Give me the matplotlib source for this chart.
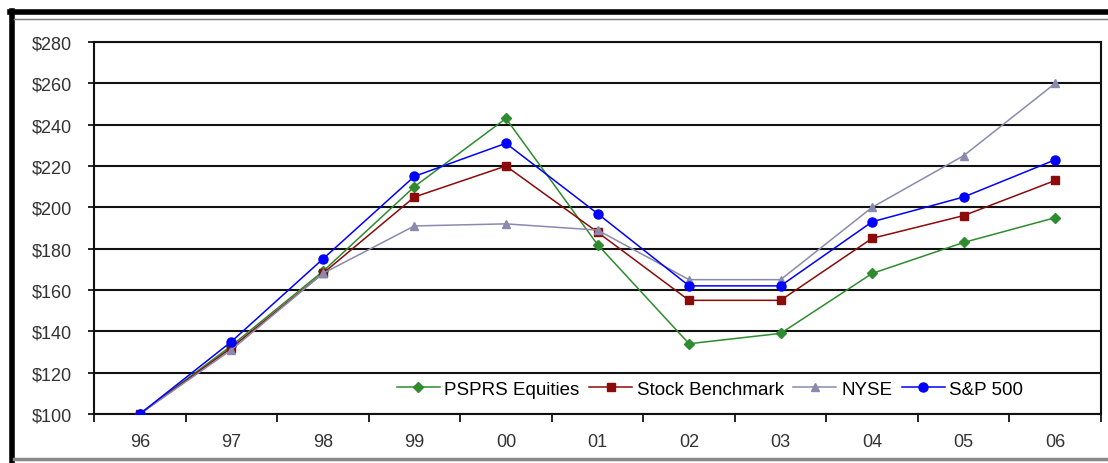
import matplotlib
matplotlib.use('Agg')
import matplotlib.pyplot as plt
from matplotlib.lines import Line2D

# data
years = ['96', '97', '98', '99', '00', '01', '02', '03', '04', '05', '06']
psprs = [100, 133, 169, 210, 243, 182, 134, 139, 168, 183, 195]
benchmark = [100, 132, 168, 205, 220, 188, 155, 155, 185, 196, 213]
nyse = [100, 131, 168, 191, 192, 189, 165, 165, 200, 225, 260]
sp500 = [100, 135, 175, 215, 231, 197, 162, 162, 193, 205, 223]
yticks = [100, 120, 140, 160, 180, 200, 220, 240, 260, 280]

plt.rcParams['font.family'] = ['Liberation Sans', 'DejaVu Sans']

fig = plt.figure(figsize=(11.08, 4.64), dpi=100)
ax = fig.add_axes([94 / 1108, 49 / 464, 1007 / 1108, 372 / 464])

x = list(range(len(years)))
series = [
    (psprs, 'PSPRS Equities', '#2e8b2e', 'D', 5),
    (benchmark, 'Stock Benchmark', '#8b0a0a', 's', 6),
    (nyse, 'NYSE', '#8a8aae', '^', 6),
    (sp500, 'S&P 500', '#0000ff', 'o', 6.5),
]
for vals, name, col, mk, ms in series:
    ax.plot(x, vals, color=col, lw=1.1, marker=mk, markersize=ms,
            markerfacecolor=col, markeredgecolor=col, label=name, zorder=3)

ax.set_xlim(-0.5, len(years) - 0.5)
ax.set_ylim(100, 280)
ax.set_yticks(yticks)
ax.set_yticklabels(['$%d' % v for v in yticks])
ax.set_xticks(x)
ax.set_xticklabels(years)
ax.set_xticks([i - 0.5 for i in range(len(years) + 1)], minor=True)
ax.tick_params(axis='x', which='major', length=0, pad=14, labelsize=13, labelcolor='#333333')
ax.tick_params(axis='x', which='minor', length=6, width=1.2, direction='out')
ax.tick_params(axis='y', length=4, width=1.2, pad=12, labelsize=13, labelcolor='#333333')
ax.grid(axis='y', color='#111111', lw=1.5)
ax.set_axisbelow(True)
for s in ax.spines.values():
    s.set_color('#111111')
    s.set_linewidth(1.5)

leg = ax.legend(loc='center', bbox_to_anchor=(616 / 1007, (415 - 390) / 372),
                ncol=4, frameon=False, fontsize=13.5, handlelength=2.3,
                handletextpad=0.25, columnspacing=0.5, borderaxespad=0)

# outer frame of the original picture
fig.add_artist(Line2D([12 / 1108, 12 / 1108], [0, 1 - 12 / 464], color='black', lw=4, transform=fig.transFigure))
fig.add_artist(Line2D([10 / 1108, 1], [1 - 13 / 464, 1 - 13 / 464], color='black', lw=4, transform=fig.transFigure))
fig.add_artist(Line2D([14 / 1108, 1], [1 - 20 / 464, 1 - 20 / 464], color='#777777', lw=1, transform=fig.transFigure))
fig.add_artist(Line2D([14 / 1108, 1], [4 / 464, 4 / 464], color='#888888', lw=2.5, transform=fig.transFigure))

fig.savefig('out.png', dpi=100)
